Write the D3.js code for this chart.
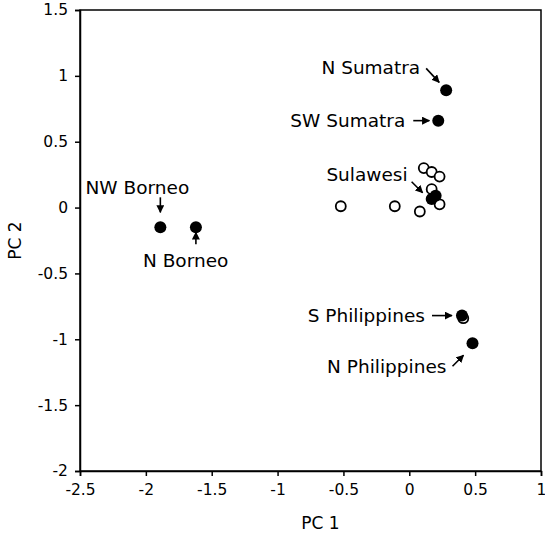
<!DOCTYPE html>
<html>
<head>
<meta charset="utf-8">
<script src="https://cdn.jsdelivr.net/npm/d3@7"></script>
<style>
  body { margin: 0; background: #fff; }
  text { font-family: "DejaVu Sans", Verdana, sans-serif; fill: #000; }
</style>
</head>
<body>
<div id="chart"></div>
<script>
// Data
const filledPoints = [
  { name: "N Sumatra", x: 0.28, y: 0.89 },
  { name: "SW Sumatra", x: 0.22, y: 0.66 },
  { name: "Sulawesi", x: 0.20, y: 0.09 },
  { name: "Sulawesi 2", x: 0.17, y: 0.065 },
  { name: "NW Borneo", x: -1.89, y: -0.15 },
  { name: "N Borneo", x: -1.62, y: -0.15 },
  { name: "S Philippines", x: 0.40, y: -0.82 },
  { name: "N Philippines", x: 0.48, y: -1.03 }
];

const openPoints = [
  { x: 0.11, y: 0.30 },
  { x: 0.17, y: 0.27 },
  { x: 0.23, y: 0.235 },
  { x: 0.17, y: 0.14 },
  { x: 0.23, y: 0.025 },
  { x: 0.08, y: -0.03 },
  { x: -0.11, y: 0.01 },
  { x: -0.52, y: 0.01 },
  { x: 0.41, y: -0.84 }
];

const xTicks = [-2.5, -2, -1.5, -1, -0.5, 0, 0.5, 1];
const yTicks = [-2, -1.5, -1, -0.5, 0, 0.5, 1, 1.5];

// Annotation labels: text offset (px) and arrow from/to (px) relative to the point
const labels = [
  { target: "N Sumatra", text: "N Sumatra", dx: -26, dy: -16, anchor: "end", ax1: -20, ay1: -22, ax2: -7, ay2: -8 },
  { target: "SW Sumatra", text: "SW Sumatra", dx: -33, dy: 6, anchor: "end", ax1: -25, ay1: 0, ax2: -9, ay2: 0 },
  { target: "Sulawesi", text: "Sulawesi", dx: -28, dy: -15, anchor: "end", ax1: -24, ay1: -14, ax2: -13, ay2: -3 },
  { target: "NW Borneo", text: "NW Borneo", dx: -23, dy: -33, anchor: "middle", ax1: 0, ay1: -30, ax2: 0, ay2: -15 },
  { target: "N Borneo", text: "N Borneo", dx: -53, dy: 40, anchor: "start", ax1: 0, ay1: 17, ax2: 0, ay2: 5 },
  { target: "S Philippines", text: "S Philippines", dx: -37, dy: 6, anchor: "end", ax1: -30, ay1: 0, ax2: -10, ay2: 0 },
  { target: "N Philippines", text: "N Philippines", dx: -26, dy: 30, anchor: "end", ax1: -20, ay1: 23, ax2: -9, ay2: 12 }
];

const width = 545, height = 542;
const margin = { top: 10, right: 4, bottom: 71, left: 80 };
const plotW = width - margin.left - margin.right;
const plotH = height - margin.top - margin.bottom;

const svg = d3.select("#chart").append("svg")
  .attr("width", width)
  .attr("height", height);

const g = svg.append("g")
  .attr("transform", `translate(${margin.left},${margin.top})`);

const x = d3.scaleLinear().domain([-2.5, 1]).range([0, plotW]);
const y = d3.scaleLinear().domain([-2, 1.5]).range([plotH, 0]);

// Frame
g.append("rect")
  .attr("width", plotW)
  .attr("height", plotH)
  .attr("fill", "none")
  .attr("stroke", "#000")
  .attr("stroke-width", 1.5);

// Axes
const xAxis = g.append("g")
  .attr("transform", `translate(0,${plotH})`)
  .call(d3.axisBottom(x).tickValues(xTicks).tickSize(5).tickPadding(8).tickFormat(d => d));
const yAxis = g.append("g")
  .call(d3.axisLeft(y).tickValues(yTicks).tickSize(5).tickPadding(7).tickFormat(d => d));

[xAxis, yAxis].forEach(a => {
  a.select(".domain").attr("stroke-width", 1.5);
  a.selectAll(".tick line").attr("stroke-width", 1.5);
  a.selectAll("text").style("font-size", "15.5px").style("font-family", "DejaVu Sans, Verdana, sans-serif");
});

// Axis titles
svg.append("text")
  .attr("x", margin.left + plotW / 2 + 10)
  .attr("y", 529)
  .attr("text-anchor", "middle")
  .style("font-size", "17px")
  .text("PC 1");

svg.append("text")
  .attr("transform", `translate(21,${margin.top + plotH / 2}) rotate(-90)`)
  .attr("text-anchor", "middle")
  .style("font-size", "17px")
  .text("PC 2");

// Open circles
g.selectAll(".open")
  .data(openPoints)
  .enter().append("circle")
  .attr("class", "open")
  .attr("cx", d => x(d.x))
  .attr("cy", d => y(d.y))
  .attr("r", 5)
  .attr("fill", "#fff")
  .attr("stroke", "#000")
  .attr("stroke-width", 1.8);

// Filled circles
g.selectAll(".filled")
  .data(filledPoints)
  .enter().append("circle")
  .attr("class", "filled")
  .attr("cx", d => x(d.x))
  .attr("cy", d => y(d.y))
  .attr("r", 6)
  .attr("fill", "#000");

// Arrowhead
svg.append("defs").append("marker")
  .attr("id", "arrow")
  .attr("viewBox", "0 0 10 10")
  .attr("refX", 9)
  .attr("refY", 5)
  .attr("markerWidth", 5)
  .attr("markerHeight", 5)
  .attr("orient", "auto")
  .append("path")
  .attr("d", "M0,0 L10,5 L0,10 Z")
  .attr("fill", "#000");

const byName = new Map(filledPoints.map(d => [d.name, d]));

const ann = g.selectAll(".ann")
  .data(labels)
  .enter().append("g")
  .attr("class", "ann")
  .attr("transform", d => {
    const p = byName.get(d.target);
    return `translate(${x(p.x)},${y(p.y)})`;
  });

ann.append("text")
  .attr("x", d => d.dx)
  .attr("y", d => d.dy)
  .attr("text-anchor", d => d.anchor)
  .style("font-size", "18.5px")
  .text(d => d.text);

ann.append("line")
  .attr("x1", d => d.ax1)
  .attr("y1", d => d.ay1)
  .attr("x2", d => d.ax2)
  .attr("y2", d => d.ay2)
  .attr("stroke", "#000")
  .attr("stroke-width", 1.6)
  .attr("marker-end", "url(#arrow)");
</script>
</body>
</html>
